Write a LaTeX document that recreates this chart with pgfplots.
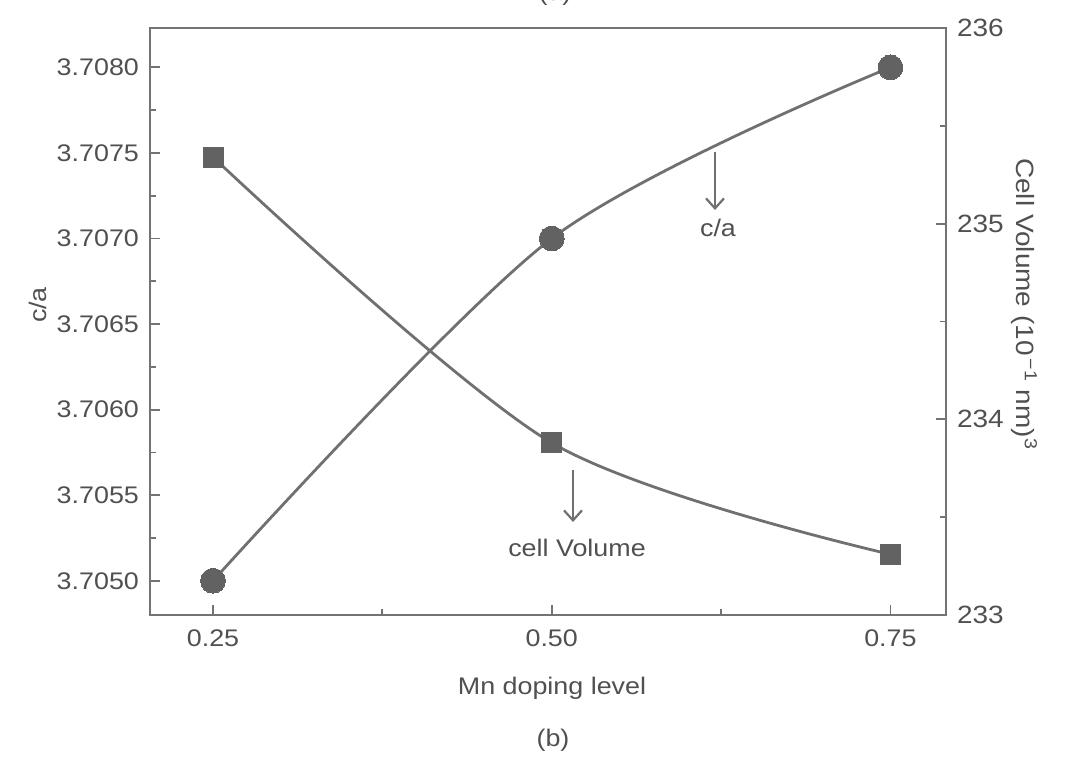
\documentclass[border=0pt]{standalone}
\usepackage{pgfplots}
\pgfplotsset{compat=1.18}
\usepackage{fontspec}
\setmainfont{Liberation Sans}[FakeStretch=1.12]
\usetikzlibrary{arrows.meta}
\definecolor{axgray}{HTML}{737373}
\definecolor{txtgray}{HTML}{505050}
\definecolor{mk}{HTML}{626262}
\definecolor{ln}{HTML}{707070}
\begin{document}
\begin{tikzpicture}
\useasboundingbox (0,0) rectangle (533pt,378pt);
\pgfplotsset{
  common/.style={
    at={(75pt,70.5pt)}, anchor=south west,
    scale only axis, width=398pt, height=293.5pt,
    xmin=0.2035, xmax=0.791,
    clip=false,
    axis line style={axgray, line width=1.3pt},
    every tick/.style={axgray, line width=0.9pt},
    major tick length=5pt, minor tick length=3pt,
    tick align=inside,
    tick label style={font=\fontsize{12}{14}\selectfont, text=txtgray},
  }
}
\begin{axis}[common,
  ymin=3.7048, ymax=3.70823,
  xtick pos=bottom, ytick pos=left,
  xtick={0.25,0.5,0.75}, xticklabels={0.25,0.50,0.75},
  minor xtick={0.375,0.625},
  ytick={3.7050,3.7055,3.7060,3.7065,3.7070,3.7075,3.7080},
  yticklabels={3.7050,3.7055,3.7060,3.7065,3.7070,3.7075,3.7080},
  minor ytick={3.70525,3.70575,3.70625,3.70675,3.70725,3.70775},
  xticklabel style={yshift=-4pt},
  yticklabel style={xshift=-2pt},
]
\addplot[ln, line width=1.4pt, smooth, mark=*, mark size=6.2pt,
  mark options={fill=mk, draw=mk, line width=0pt}]
  coordinates {(0.25,3.7050) (0.50,3.7070) (0.75,3.7080)};
\end{axis}
\begin{axis}[common,
  ymin=233, ymax=236,
  axis x line=none, axis y line*=right,
  ytick={233,234,235,236},
  yticklabels={233,234,235,236},
  minor ytick={233.5,234.5,235.5},
  yticklabel style={xshift=2pt, font=\fontsize{12.5}{14}\selectfont},
]
\addplot[ln, line width=1.4pt, smooth, mark=square*, mark size=5pt,
  mark options={fill=mk, draw=mk, line width=0pt}]
  coordinates {(0.25,235.34) (0.50,233.88) (0.75,233.31)};
\end{axis}
% annotations
\begin{scope}[x=0.5pt, y=0.5pt]
\draw[ln, line width=1.1pt, -{Straight Barb[length=5pt,width=9pt]}] (715,604) -- (715,546);
\node[text=txtgray, font=\fontsize{12}{14}\selectfont] at (718,528) {c/a};
\draw[ln, line width=1.1pt, -{Straight Barb[length=5pt,width=9pt]}] (573,286) -- (573,234);
\node[text=txtgray, font=\fontsize{12}{14}\selectfont] at (577,208) {cell Volume};
\node[text=txtgray, font=\fontsize{12}{14}\selectfont] at (552,68) {Mn doping level};
\node[text=txtgray, font=\fontsize{12}{14}\selectfont] at (553,16) {(b)};
\node[text=txtgray, font=\fontsize{12}{14}\selectfont] at (555,762) {(a)};
\node[text=txtgray, font=\fontsize{12}{14}\selectfont, rotate=90] at (38,451) {c/a};
\node[text=txtgray, font=\fontsize{12.5}{14}\selectfont, rotate=-90] at (1024,452) {Cell Volume (10\textsuperscript{\,−1} nm)\textsuperscript{3}};
\end{scope}
\end{tikzpicture}
\end{document}
